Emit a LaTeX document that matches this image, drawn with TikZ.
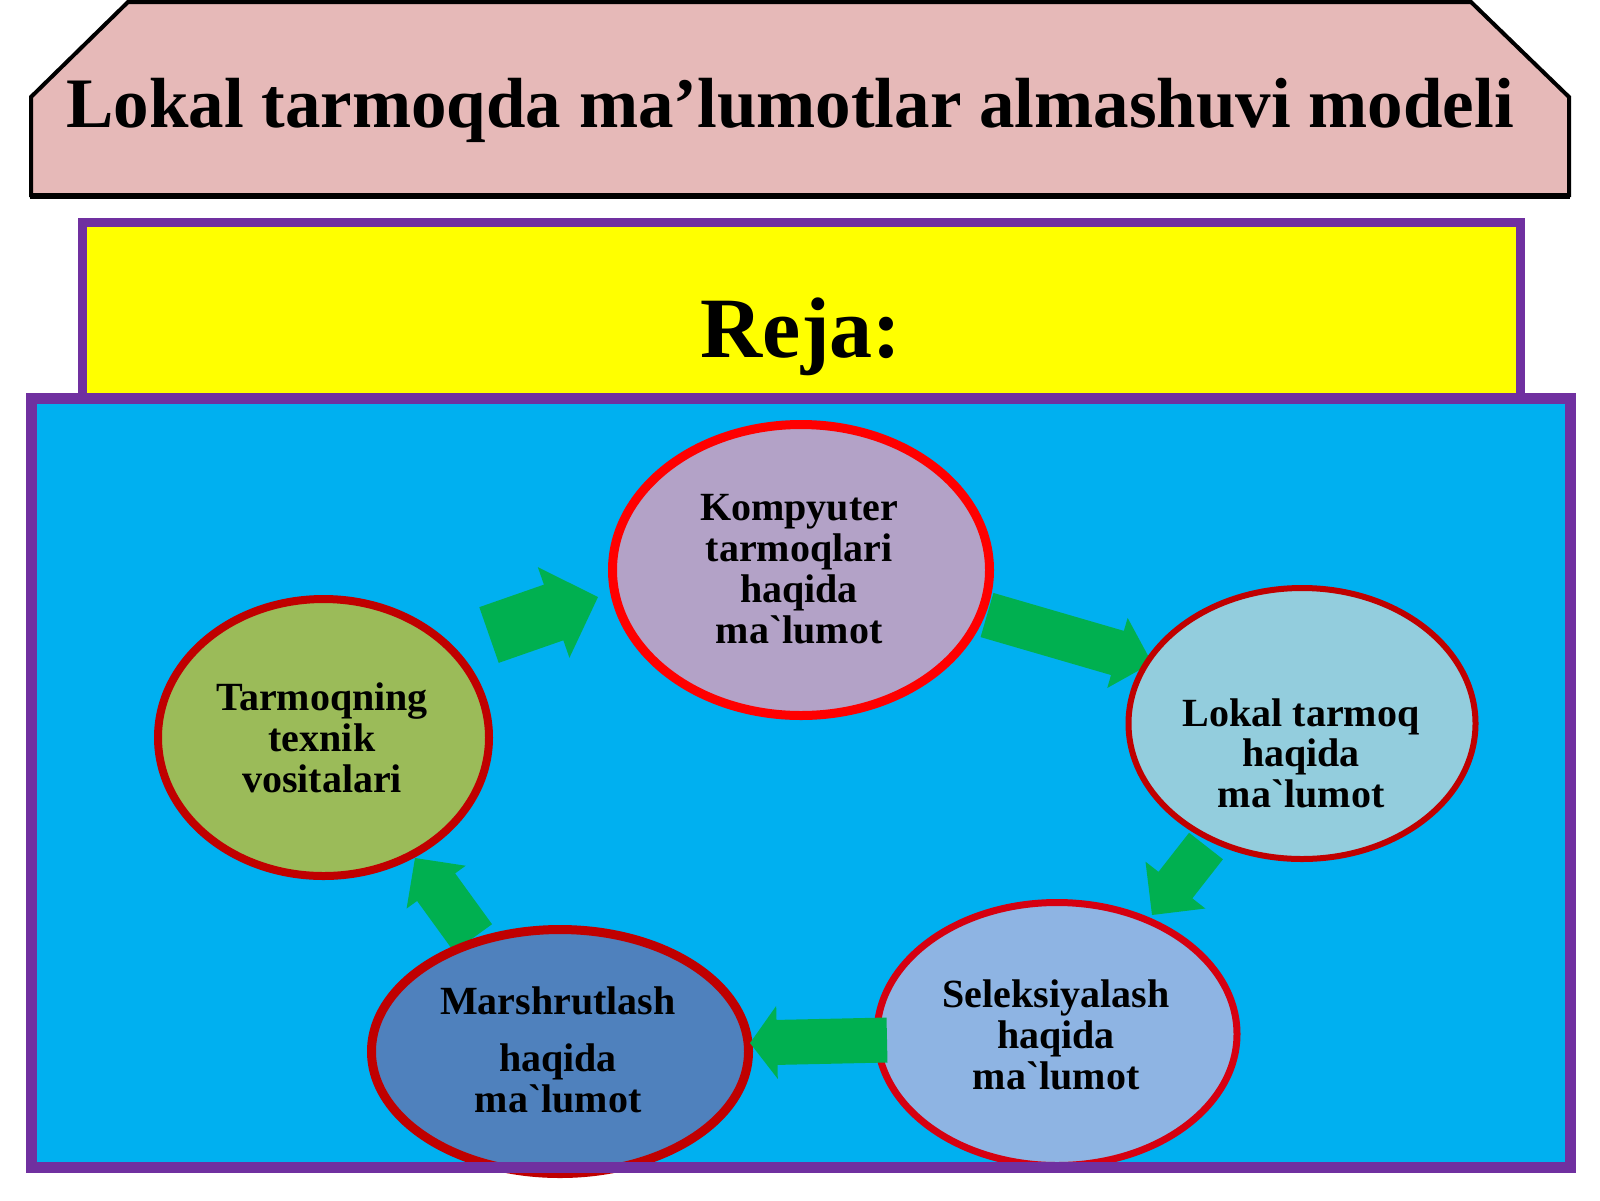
\documentclass[tikz,border=0pt]{standalone}
\usepackage{fontspec}
\setmainfont{Liberation Serif}[Ligatures=TeXOff]
\usetikzlibrary{calc,shapes.geometric}
\definecolor{titlefill}{HTML}{E6B9B8}
\definecolor{boxpurple}{HTML}{7030A0}
\definecolor{rejayellow}{HTML}{FFFF00}
\definecolor{panelblue}{HTML}{00B0F0}
\definecolor{arrgreen}{HTML}{00B050}
\definecolor{redA}{HTML}{FF0000}
\definecolor{redB}{HTML}{C00000}
\definecolor{redC}{HTML}{D60010}
\definecolor{kfill}{HTML}{B3A2C7}
\definecolor{tfill}{HTML}{9BBB59}
\definecolor{lfill}{HTML}{93CDDD}
\definecolor{sfill}{HTML}{8EB4E3}
\definecolor{mfill}{HTML}{4F81BD}
\newcommand{\blockarr}[5]{%
  \pgfmathsetmacro{\bsw}{#3/4}%
  \pgfmathsetmacro{\bhw}{#4/4}%
  \pgfmathsetmacro{\bhl}{#5/2}%
  \coordinate (bh) at ($(#2)!\bhl pt!(#1)$);
  \fill[arrgreen] ($(#1)!\bsw pt!90:(#2)$) -- ($(bh)!\bsw pt!90:(#2)$) -- ($(bh)!\bhw pt!90:(#2)$) -- (#2)
    -- ($(bh)!\bhw pt!-90:(#2)$) -- ($(bh)!\bsw pt!-90:(#2)$) -- ($(#1)!\bsw pt!-90:(#2)$) -- cycle;
}
\begin{document}
\begin{tikzpicture}[x=0.5pt,y=-0.5pt,
  oval/.style={ellipse, inner sep=0pt, outer sep=0pt},
  etxt/.style={font=\fontsize{20pt}{20.5pt}\selectfont\bfseries, anchor=base, inner sep=0pt},
]
\useasboundingbox (0,0) rectangle (1600,1200);
\fill[white] (0,0) rectangle (1600,1200);

% title banner
\filldraw[fill=titlefill, draw=black, line width=2pt, line join=miter]
  (128,2) -- (1471,2) -- (1569,97) -- (1569,195) -- (31,195) -- (31,97) -- cycle;
\draw[black, line width=2.5pt] (30,196) -- (1570,196);
\node[font=\fontsize{35.5pt}{40pt}\selectfont\bfseries, anchor=base, inner sep=0pt] (title) at (790,127)
  {Lokal tarmoqda ma’lumotlar almashuvi modeli};

% yellow box
\filldraw[fill=rejayellow, draw=boxpurple, line width=4.5pt] (82,222) rectangle (1520,398);
\node[font=\fontsize{43pt}{48pt}\selectfont\bfseries, anchor=base, inner sep=0pt] (reja) at (801,357) {Reja:};

% blue panel
\fill[panelblue] (31,398) rectangle (1570,1167);

% arrow end points
\coordinate (a1t) at (489,635);  \coordinate (a1h) at (598,597);
\coordinate (a2t) at (987,615);  \coordinate (a2h) at (1152,663);
\coordinate (a3t) at (1206,846); \coordinate (a3h) at (1152,915);
\coordinate (a4t) at (887,1040); \coordinate (a4h) at (750,1043);
\coordinate (a5t) at (473,938);  \coordinate (a5h) at (415,858);
\blockarr{a1t}{a1h}{59}{96}{47}
\blockarr{a2t}{a2h}{46}{73}{36}
\blockarr{a3t}{a3h}{43}{76}{38}
\blockarr{a5t}{a5h}{47}{73}{36}

% ellipses
\node[oval, draw=redA, fill=kfill, line width=4.5pt, minimum width=188.5pt, minimum height=145.5pt] (komp) at (801,570) {};
\node[oval, draw=redB, fill=tfill, line width=4pt, minimum width=165.5pt, minimum height=138.5pt] (tex) at (323.5,737.5) {};
\node[oval, draw=redB, fill=lfill, line width=3pt, minimum width=173.5pt, minimum height=135.5pt] (lok) at (1302,723.5) {};
\node[oval, draw=redC, fill=sfill, line width=3.5pt, minimum width=180pt, minimum height=131.5pt] (sel) at (1057,1034) {};
\node[oval, draw=redB, fill=mfill, line width=4.5pt, minimum width=188.5pt, minimum height=122pt] (mar) at (560,1051.5) {};

% arrow lying over the Seleksiyalash border
\blockarr{a4t}{a4h}{45}{73}{27}

% panel border on top
\draw[boxpurple, line width=5.5pt] (31,398) rectangle (1570,1167);

% ellipse texts
\node[etxt] (k1) at (799,520) {Kompyuter};
\node[etxt] (k2) at (799,561) {tarmoqlari};
\node[etxt] (k3) at (799,602) {haqida};
\node[etxt] (k4) at (799,643) {ma`lumot};

\node[etxt] (t1) at (322,710) {Tarmoqning};
\node[etxt] (t2) at (322,751) {texnik};
\node[etxt] (t3) at (322,792) {vositalari};

\node[etxt] (l1) at (1301,726) {Lokal tarmoq};
\node[etxt] (l2) at (1301,766) {haqida};
\node[etxt] (l3) at (1301,807) {ma`lumot};

\node[etxt] (s1) at (1056,1007) {Seleksiyalash};
\node[etxt] (s2) at (1056,1048) {haqida};
\node[etxt] (s3) at (1056,1089) {ma`lumot};

\node[etxt] (m1) at (558,1014) {Marshrutlash};
\node[etxt] (m2) at (558,1071) {haqida};
\node[etxt] (m3) at (558,1112) {ma`lumot};
\end{tikzpicture}
\end{document}
